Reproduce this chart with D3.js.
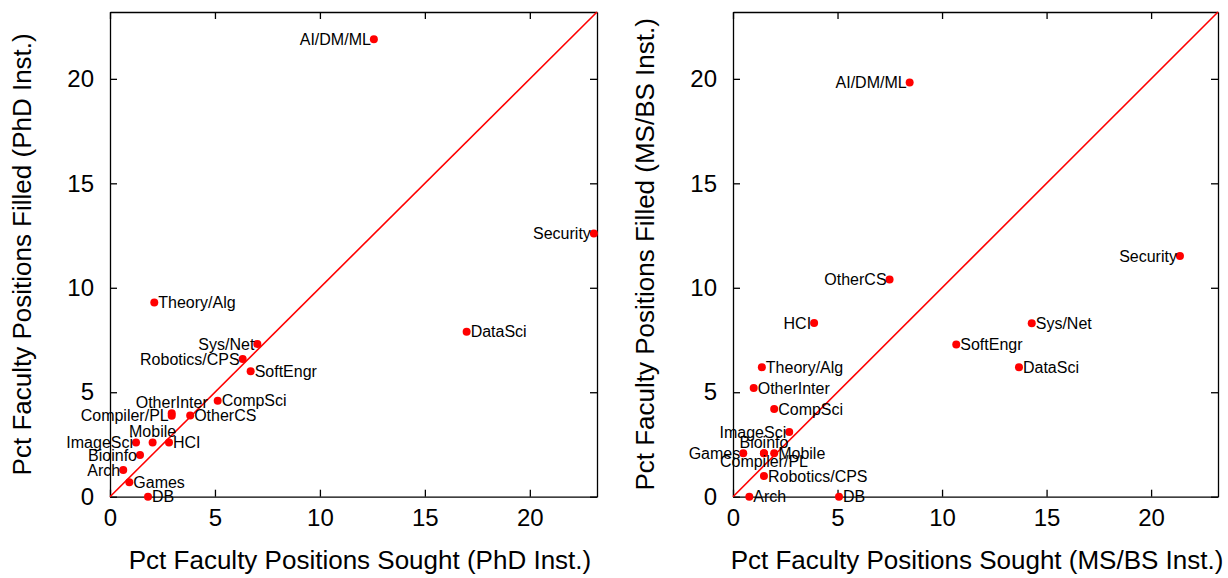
<!DOCTYPE html>
<html>
<head>
<meta charset="utf-8">
<script src="https://cdn.jsdelivr.net/npm/d3@7"></script>
<style>
  body { margin: 0; background: #fff; }
  svg text { font-family: "Liberation Sans", Arial, Helvetica, sans-serif; fill: #000; }
  .axis path, .axis line { stroke: #000; stroke-width: 1.3; }
  .axis text { font-size: 24px; }
  .ptlabel { font-size: 16px; }
  .title { font-size: 26px; }
</style>
</head>
<body>
<svg id="chart" width="1228" height="578"></svg>
<script>
// categories, same order for both panels
var categories = ["AI/DM/ML", "Arch", "Bioinfo", "CompSci", "Compiler/PL", "DataSci", "DB", "Games", "HCI",
                  "ImageSci", "Mobile", "OtherCS", "OtherInter", "Robotics/CPS", "Security", "SoftEngr", "Sys/Net", "Theory/Alg"];

// PhD institutions (pct sought / pct filled)
var phdSought = [12.57, 0.63, 1.43, 5.13, 2.94, 16.99, 1.81, 0.92, 2.81, 1.24, 2.03, 3.82, 2.94, 6.32, 23.05, 6.70, 7.02, 2.11];
var phdFilled = [21.9, 1.28, 2.0, 4.59, 3.88, 7.9, 0, 0.69, 2.6, 2.6, 2.6, 3.89, 3.99, 6.59, 12.6, 6.01, 7.31, 9.3];
var phdLabelSide = ["end", "end", "end", "start", "end", "start", "start", "start", "start",
                    "end", "above", "start", "above", "end", "end", "start", "end", "start"];

// MS/BS institutions
var msSought = [8.45, 0.78, 1.48, 1.97, 1.48, 13.68, 5.07, 0.49, 3.88, 2.69, 1.97, 7.49, 0.99, 1.48, 21.38, 10.68, 14.29, 1.38];
var msFilled = [19.83, 0, 2.08, 4.2, 2.08, 6.2, 0, 2.08, 8.31, 3.1, 2.08, 10.4, 5.2, 0.99, 11.52, 7.29, 8.3, 6.2];
var msLabelSide = ["end", "start", "above", "start", "below", "start", "start", "end", "end",
                   "end", "start", "end", "start", "start", "end", "start", "start", "start"];

var tickValues = [0, 5, 10, 15, 20];
var axisMax = 23.2;

var svg = d3.select("#chart");

function drawPanel(opts) {
    var left = opts.left, right = opts.right, top = 12, bottom = 496.7;
    var x = d3.scaleLinear().domain([0, axisMax]).range([left, right]),
        y = d3.scaleLinear().domain([0, axisMax]).range([bottom, top]);
    var g = svg.append("g");

    g.append("g").attr("class", "axis")
        .attr("transform", "translate(0," + bottom + ")")
        .call(d3.axisBottom(x).tickValues(tickValues).tickSizeInner(-7).tickSizeOuter(0).tickPadding(12));
    g.append("g").attr("class", "axis")
        .attr("transform", "translate(0," + top + ")")
        .call(d3.axisTop(x).tickValues(tickValues).tickSizeInner(-7).tickSizeOuter(0).tickFormat(""));
    g.append("g").attr("class", "axis")
        .attr("transform", "translate(" + left + ",0)")
        .call(d3.axisLeft(y).tickValues(tickValues).tickSizeInner(-7).tickSizeOuter(0).tickPadding(16));
    g.append("g").attr("class", "axis")
        .attr("transform", "translate(" + right + ",0)")
        .call(d3.axisRight(y).tickValues(tickValues).tickSizeInner(-7).tickSizeOuter(0).tickFormat(""));

    // diagonal y = x
    g.append("line")
        .attr("x1", x(0)).attr("y1", y(0))
        .attr("x2", x(axisMax)).attr("y2", y(axisMax))
        .attr("stroke", "#ff0000").attr("stroke-width", 1.6);

    var data = categories.map(function(c, i) {
        return {name: c, sx: opts.sought[i], fy: opts.filled[i], side: opts.side[i]};
    });

    g.selectAll("circle.pt").data(data).enter()
        .append("circle").attr("class", "pt")
        .attr("cx", function(d) { return x(d.sx); })
        .attr("cy", function(d) { return y(d.fy); })
        .attr("r", 4)
        .attr("fill", "#ff0000");

    g.selectAll("text.ptlabel").data(data).enter()
        .append("text").attr("class", "ptlabel")
        .attr("x", function(d) {
            if (d.side == "end") return x(d.sx) - 3;
            if (d.side == "start") return x(d.sx) + 4;
            return x(d.sx);
        })
        .attr("y", function(d) {
            if (d.side == "above") return y(d.fy) - 5;
            if (d.side == "below") return y(d.fy) + 14;
            return y(d.fy);
        })
        .attr("dy", function(d) { return (d.side == "above" || d.side == "below") ? 0 : "0.35em"; })
        .attr("text-anchor", function(d) {
            return (d.side == "above" || d.side == "below") ? "middle" : d.side;
        })
        .text(function(d) { return d.name; });

    g.append("text").attr("class", "title")
        .attr("x", opts.titleX)
        .attr("y", 569)
        .attr("text-anchor", "middle")
        .text(opts.xTitle);

    g.append("text").attr("class", "title")
        .attr("transform", "translate(" + (left - 79) + "," + ((top + bottom) / 2) + ") rotate(-90)")
        .attr("text-anchor", "middle")
        .text(opts.yTitle);
}

drawPanel({left: 110, right: 597, titleX: 360, sought: phdSought, filled: phdFilled, side: phdLabelSide,
           xTitle: "Pct Faculty Positions Sought (PhD Inst.)", yTitle: "Pct Faculty Positions Filled (PhD Inst.)"});
drawPanel({left: 733, right: 1218, titleX: 977, sought: msSought, filled: msFilled, side: msLabelSide,
           xTitle: "Pct Faculty Positions Sought (MS/BS Inst.)", yTitle: "Pct Faculty Positions Filled (MS/BS Inst.)"});
</script>
</body>
</html>
